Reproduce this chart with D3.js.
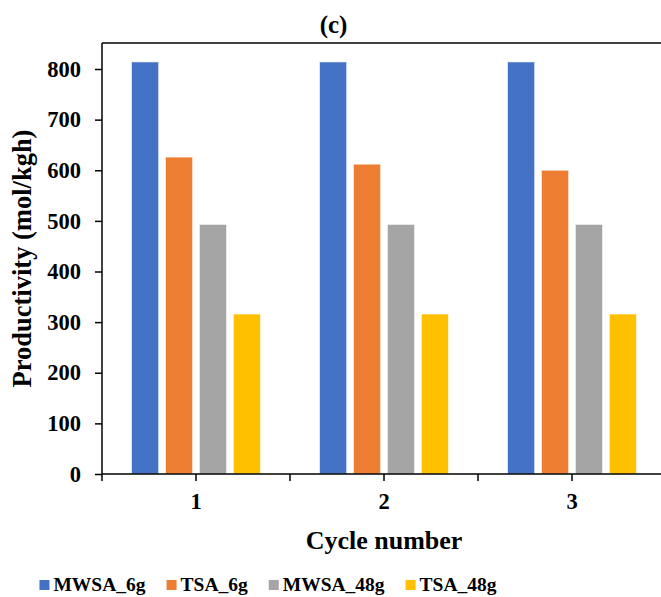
<!DOCTYPE html>
<html>
<head>
<meta charset="utf-8">
<script src="https://cdn.jsdelivr.net/npm/d3@7"></script>
<style>
  body { margin: 0; background: #fff; }
  svg { display: block; font-family: "Liberation Serif", "Times New Roman", serif; font-weight: bold; }
</style>
</head>
<body>
<svg id="chart" width="661" height="597"></svg>
<script>
// data
var cycles = ["1", "2", "3"];
var seriesNames = ["MWSA_6g", "TSA_6g", "MWSA_48g", "TSA_48g"];
var seriesColors = ["#4472C4", "#ED7D31", "#A5A5A5", "#FFC000"];
var mwsa6 = [814, 814, 814];
var tsa6 = [626, 612, 600];
var mwsa48 = [493, 493, 493];
var tsa48 = [316, 316, 316];
var yTicks = [0, 100, 200, 300, 400, 500, 600, 700, 800];

var allSeries = [mwsa6, tsa6, mwsa48, tsa48];

var svg = d3.select("#chart");

// plot area (right side runs past the window like the original crop)
var plotLeft = 102, plotRight = 666, plotTop = 43, plotBottom = 474;

var x = d3.scaleBand().domain(cycles).range([plotLeft, plotRight]);
var inner = d3.scaleBand().domain(seriesNames)
    .range([29.5, x.bandwidth() - 29.5])
    .paddingInner(0.2);
var y = d3.scaleLinear().domain([0, 800]).range([plotBottom, 69]);

// title
svg.append("text")
    .attr("x", 333.5).attr("y", 33)
    .attr("text-anchor", "middle")
    .style("font-size", "25px")
    .text("(c)");

// bars
var groups = svg.append("g").selectAll("g")
    .data(cycles)
    .enter().append("g")
    .attr("transform", function(d) { return "translate(" + x(d) + ",0)"; });

groups.selectAll("rect")
    .data(function(d, i) {
        return seriesNames.map(function(s, k) {
            return { name: s, value: allSeries[k][i], color: seriesColors[k] };
        });
    })
    .enter().append("rect")
    .attr("x", function(d) { return inner(d.name); })
    .attr("width", inner.bandwidth())
    .attr("y", function(d) { return y(d.value); })
    .attr("height", function(d) { return y(0) - y(d.value); })
    .attr("fill", function(d) { return d.color; })
    .attr("stroke", "#fff")
    .attr("stroke-opacity", 0.6)
    .attr("stroke-width", 1);

// top frame line
svg.append("line")
    .attr("x1", plotLeft).attr("x2", 661)
    .attr("y1", plotTop).attr("y2", plotTop)
    .attr("stroke", "#000").attr("stroke-width", 1.5);

// y axis
var yAxis = svg.append("g")
    .attr("transform", "translate(" + plotLeft + ",0)")
    .call(d3.axisLeft(y).tickValues(yTicks).tickSize(7).tickPadding(14))
    .attr("font-family", null).attr("font-size", null);
yAxis.select(".domain").remove();
yAxis.selectAll("line").attr("stroke", "#000").attr("stroke-width", 1.5);
yAxis.selectAll("text").style("font-size", "22.5px").attr("fill", "#000");
svg.append("line")
    .attr("x1", plotLeft).attr("x2", plotLeft)
    .attr("y1", plotTop).attr("y2", plotBottom)
    .attr("stroke", "#000").attr("stroke-width", 1.5);

// x axis: ticks at category centers and boundaries
var xAxis = svg.append("g")
    .attr("transform", "translate(0," + plotBottom + ")")
    .call(d3.axisBottom(x).tickSize(7).tickPadding(12))
    .attr("font-family", null).attr("font-size", null);
xAxis.select(".domain").remove();
xAxis.selectAll("line").attr("stroke", "#000").attr("stroke-width", 1.5);
xAxis.selectAll("text").style("font-size", "22.5px").attr("fill", "#000");
var edges = [plotLeft].concat(cycles.map(function(c) { return x(c) + x.bandwidth(); }));
svg.append("g").selectAll("line")
    .data(edges)
    .enter().append("line")
    .attr("x1", function(d) { return d; }).attr("x2", function(d) { return d; })
    .attr("y1", plotBottom).attr("y2", plotBottom + 7)
    .attr("stroke", "#000").attr("stroke-width", 1.5);
svg.append("line")
    .attr("x1", plotLeft).attr("x2", 661)
    .attr("y1", plotBottom).attr("y2", plotBottom)
    .attr("stroke", "#000").attr("stroke-width", 1.5);

// axis titles
svg.append("text")
    .attr("x", (plotLeft + plotRight) / 2).attr("y", 549)
    .attr("text-anchor", "middle")
    .style("font-size", "26px")
    .text("Cycle number");

svg.append("text")
    .attr("transform", "translate(31," + ((plotTop + plotBottom) / 2) + ") rotate(-90)")
    .attr("text-anchor", "middle")
    .style("font-size", "26.5px")
    .text("Productivity (mol/kgh)");

// legend, centred under the chart
var legend = svg.append("g");
var items = legend.selectAll("g")
    .data(seriesNames)
    .enter().append("g");
items.append("rect")
    .attr("width", 10).attr("height", 10)
    .attr("y", 580)
    .attr("fill", function(d, i) { return seriesColors[i]; });
items.append("text")
    .attr("x", 14).attr("y", 591)
    .style("font-size", "19.5px")
    .text(function(d) { return d; });

var pos = 0;
items.each(function() {
    var w = d3.select(this).select("text").node().getComputedTextLength();
    d3.select(this).attr("transform", "translate(" + pos + ",0)");
    pos += 14 + w + 21;
});
var legendWidth = pos - 21;
legend.attr("transform", "translate(" + (268 - legendWidth / 2) + ",0)");
</script>
</body>
</html>
